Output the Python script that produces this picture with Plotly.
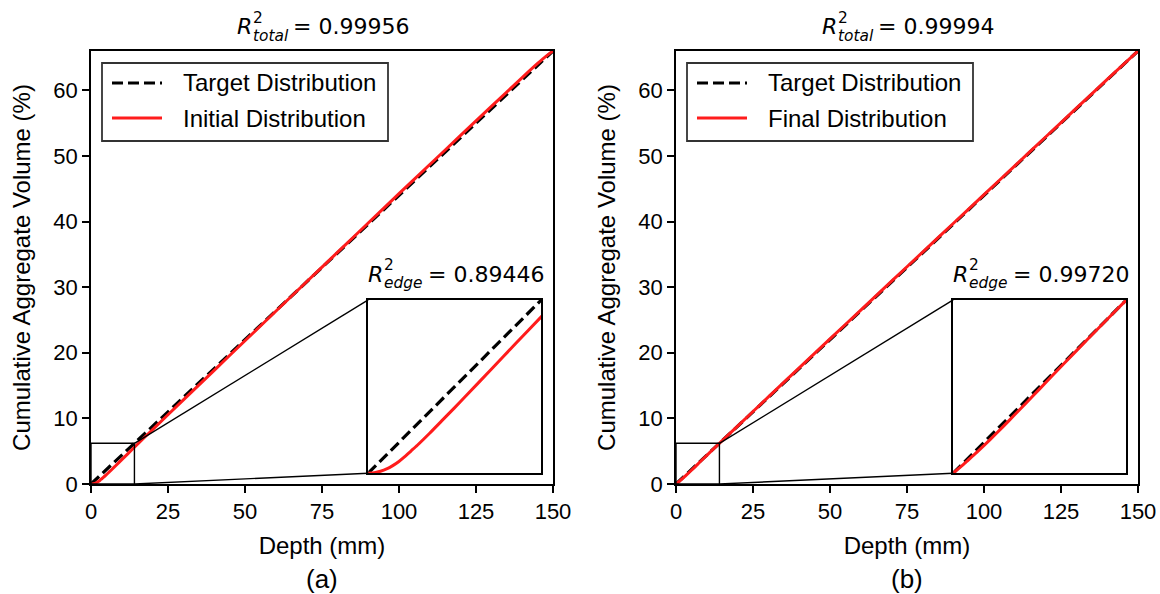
import plotly.graph_objects as go

# ---------------------------------------------------------------- data
# Target cumulative aggregate volume: linear with depth
target_depth = [0, 150]
target_volume = [0, 66.0]

# Initial (as-generated) distribution
initial_depth = [0, 0.5, 1, 1.5, 2, 2.5, 3, 3.5, 4, 5, 6, 7, 8, 10, 12, 14, 17, 20,
                 30, 40, 50, 60, 70, 80, 90, 100, 110, 120, 130, 140, 145, 148, 150]
initial_volume = [0, 0.02, 0.07, 0.15, 0.27, 0.42, 0.60, 0.80, 1.00, 1.43, 1.88, 2.33,
                  2.79, 3.71, 4.64, 5.56, 6.93, 8.30, 12.82, 17.33, 21.83, 26.33, 30.83,
                  35.30, 39.78, 44.25, 48.70, 53.13, 57.55, 61.95, 64.10, 65.30, 66.0]

# Final (optimised) distribution
final_depth = [0, 0.5, 1, 1.5, 2, 3, 4, 5, 6, 7, 8, 10, 12, 14, 20,
               30, 40, 50, 60, 70, 80, 90, 100, 110, 120, 130, 140, 150]
final_volume = [0, 0.19, 0.38, 0.58, 0.78, 1.20, 1.64, 2.09, 2.54, 3.00, 3.46, 4.37,
                5.27, 6.16, 8.82, 13.28, 17.70, 22.11, 26.51, 30.91, 35.31, 39.71,
                44.10, 48.50, 52.89, 57.28, 61.67, 66.0]

r2_total = ["0.99956", "0.99994"]
r2_edge = ["0.89446", "0.99720"]
series_names = ["Initial Distribution", "Final Distribution"]
panel_tags = ["(a)", "(b)"]

x_ticks = [0, 25, 50, 75, 100, 125, 150]
y_ticks = [0, 10, 20, 30, 40, 50, 60]

# ---------------------------------------------------------------- layout
W, H = 1160, 594
PANEL_PX = [(91, 553), (676, 1138)]
ML, MR, MT, MB = 91, W - 1138, 51, 110
PW, PH = W - ML - MR, H - MT - MB

X_RANGE = [0, 150]
Y_RANGE = [0, 66.0]
ZOOM_X = [0, 14.1]          # edge region shown in the inset
ZOOM_Y = [0, 6.2]
INSET = (0.6, 0.025, 0.375, 0.4)   # left, bottom, width, height (axes fraction)

RED = "#ff1c1c"
FONT = "Liberation Sans, Arial, sans-serif"
MATH = "DejaVu Sans"


def fx(xp):
    return (xp - ML) / PW


def fy(yp):
    return (H - MB - yp) / PH


fig = go.Figure()
shapes, annotations = [], []
layout_axes = {}


def math_label(xc, yc, sub, sub_w, value, size=22):
    """R^2 with stacked superscript/subscript, centred on (xc, yc) in pixels."""
    s = size * 0.7
    w_r = 0.695 * size
    w_sub = sub_w * s
    w_val = 5.29 * size
    total = w_r + 1 + w_sub + 5 + w_val
    left = xc - total / 2
    base = dict(xref="paper", yref="paper", xanchor="left", yanchor="middle",
                showarrow=False, borderpad=0)
    annotations.append(dict(text="<i>R</i>", x=fx(left), y=fy(yc),
                            font=dict(family=MATH, size=size, color="black"), **base))
    annotations.append(dict(text="2", x=fx(left + w_r + 1), y=fy(yc - 0.42 * size),
                            font=dict(family=MATH, size=s, color="black"), **base))
    annotations.append(dict(text=f"<i>{sub}</i>", x=fx(left + w_r + 1),
                            y=fy(yc + 0.40 * size),
                            font=dict(family=MATH, size=s, color="black"), **base))
    annotations.append(dict(text=f"= {value}", x=fx(left + w_r + 1 + w_sub + 5),
                            y=fy(yc), font=dict(family=MATH, size=size, color="black"),
                            **base))


for i in range(2):
    depth = [initial_depth, final_depth][i]
    vol = [initial_volume, final_volume][i]
    n_main = 2 * i + 1
    n_ins = 2 * i + 2
    xm, ym = f"x{n_main if n_main > 1 else ''}", f"y{n_main if n_main > 1 else ''}"
    xi, yi = f"x{n_ins}", f"y{n_ins}"
    left_px, right_px = PANEL_PX[i]
    d0, d1 = fx(left_px), fx(right_px)

    for xa, ya in [(xm, ym), (xi, yi)]:
        fig.add_trace(go.Scatter(
            x=target_depth, y=target_volume, mode="lines", name="Target Distribution",
            line=dict(color="black", width=3.2, dash="11px,5px"),
            xaxis=xa, yaxis=ya, showlegend=False, hoverinfo="skip"))
        fig.add_trace(go.Scatter(
            x=depth, y=vol, mode="lines", name=series_names[i],
            line=dict(color=RED, width=3, shape="spline", smoothing=0.6),
            xaxis=xa, yaxis=ya, showlegend=False, hoverinfo="skip"))

    axis_common = dict(showline=True, mirror=True, linecolor="black", linewidth=1.6,
                       showgrid=False, zeroline=False)
    kx = "xaxis" if n_main == 1 else f"xaxis{n_main}"
    ky = "yaxis" if n_main == 1 else f"yaxis{n_main}"
    layout_axes[kx] = dict(
        domain=[d0, d1], anchor=ym, range=X_RANGE, tickvals=x_ticks,
        ticks="outside", ticklen=7, tickwidth=1.6, tickcolor="black",
        tickfont=dict(family=FONT, size=22, color="black"),
        title=dict(text="Depth (mm)", font=dict(family=FONT, size=24, color="black"),
                   standoff=14),
        **axis_common)
    layout_axes[ky] = dict(
        domain=[0, 1], anchor=xm, range=Y_RANGE, tickvals=y_ticks,
        ticks="outside", ticklen=7, tickwidth=1.6, tickcolor="black",
        tickfont=dict(family=FONT, size=22, color="black"),
        title=dict(text="Cumulative Aggregate Volume (%)",
                   font=dict(family=FONT, size=24, color="black"), standoff=16),
        **axis_common)

    # inset axes
    il, ib, iw, ih = INSET
    layout_axes[f"xaxis{n_ins}"] = dict(
        domain=[d0 + il * (d1 - d0), d0 + (il + iw) * (d1 - d0)], anchor=yi,
        range=ZOOM_X, showticklabels=False, ticks="", **axis_common)
    layout_axes[f"yaxis{n_ins}"] = dict(
        domain=[ib, ib + ih], anchor=xi, range=ZOOM_Y,
        showticklabels=False, ticks="", **axis_common)

    # zoom indicator: rectangle and connectors to the inset corners
    span_x = X_RANGE[1] - X_RANGE[0]
    span_y = Y_RANGE[1] - Y_RANGE[0]
    ins_left = X_RANGE[0] + il * span_x
    ins_bot = Y_RANGE[0] + ib * span_y
    ins_top = Y_RANGE[0] + (ib + ih) * span_y
    thin = dict(color="black", width=1.4)
    shapes.append(dict(type="rect", xref=xm, yref=ym, x0=ZOOM_X[0], x1=ZOOM_X[1],
                       y0=ZOOM_Y[0], y1=ZOOM_Y[1], line=thin))
    shapes.append(dict(type="line", xref=xm, yref=ym, x0=ZOOM_X[1], y0=ZOOM_Y[1],
                       x1=ins_left, y1=ins_top, line=thin))
    shapes.append(dict(type="line", xref=xm, yref=ym, x0=ZOOM_X[1], y0=ZOOM_Y[0],
                       x1=ins_left, y1=ins_bot, line=thin))

    # legend box
    shapes.append(dict(type="rect", xref="paper", yref="paper",
                       x0=fx(left_px + 11), x1=fx(left_px + 297), y0=fy(141), y1=fy(63),
                       line=dict(color="#333333", width=1.8), fillcolor="white"))
    for row, (lab, style) in enumerate([("Target Distribution",
                                         dict(color="black", width=3.2, dash="11px,5px")),
                                        (series_names[i], dict(color=RED, width=3))]):
        yc = 83 + 35 * row
        shapes.append(dict(type="line", xref="paper", yref="paper",
                           x0=fx(left_px + 21), x1=fx(left_px + 71), y0=fy(yc), y1=fy(yc),
                           line=style))
        annotations.append(dict(text=lab, xref="paper", yref="paper", x=fx(left_px + 90),
                                y=fy(yc), xanchor="left", yanchor="middle", showarrow=False,
                                font=dict(family=FONT, size=24, color="black")))

    # R^2 labels (main title and inset title)
    cx = (left_px + right_px) / 2
    math_label(cx, 27, "total", 2.287, r2_total[i])
    ins_l_px = left_px + il * (right_px - left_px)
    ins_r_px = left_px + (il + iw) * (right_px - left_px)
    math_label((ins_l_px + ins_r_px) / 2, 274, "edge", 2.5, r2_edge[i])

    annotations.append(dict(text=panel_tags[i], xref="paper", yref="paper", x=fx(cx),
                            y=fy(579), xanchor="center", yanchor="middle",
                            showarrow=False, font=dict(family=FONT, size=26, color="black")))

fig.update_layout(
    width=W, height=H,
    margin=dict(l=ML, r=MR, t=MT, b=MB, autoexpand=False),
    paper_bgcolor="white", plot_bgcolor="white",
    showlegend=False,
    shapes=shapes, annotations=annotations,
    **layout_axes)

fig.write_html("out.html")
